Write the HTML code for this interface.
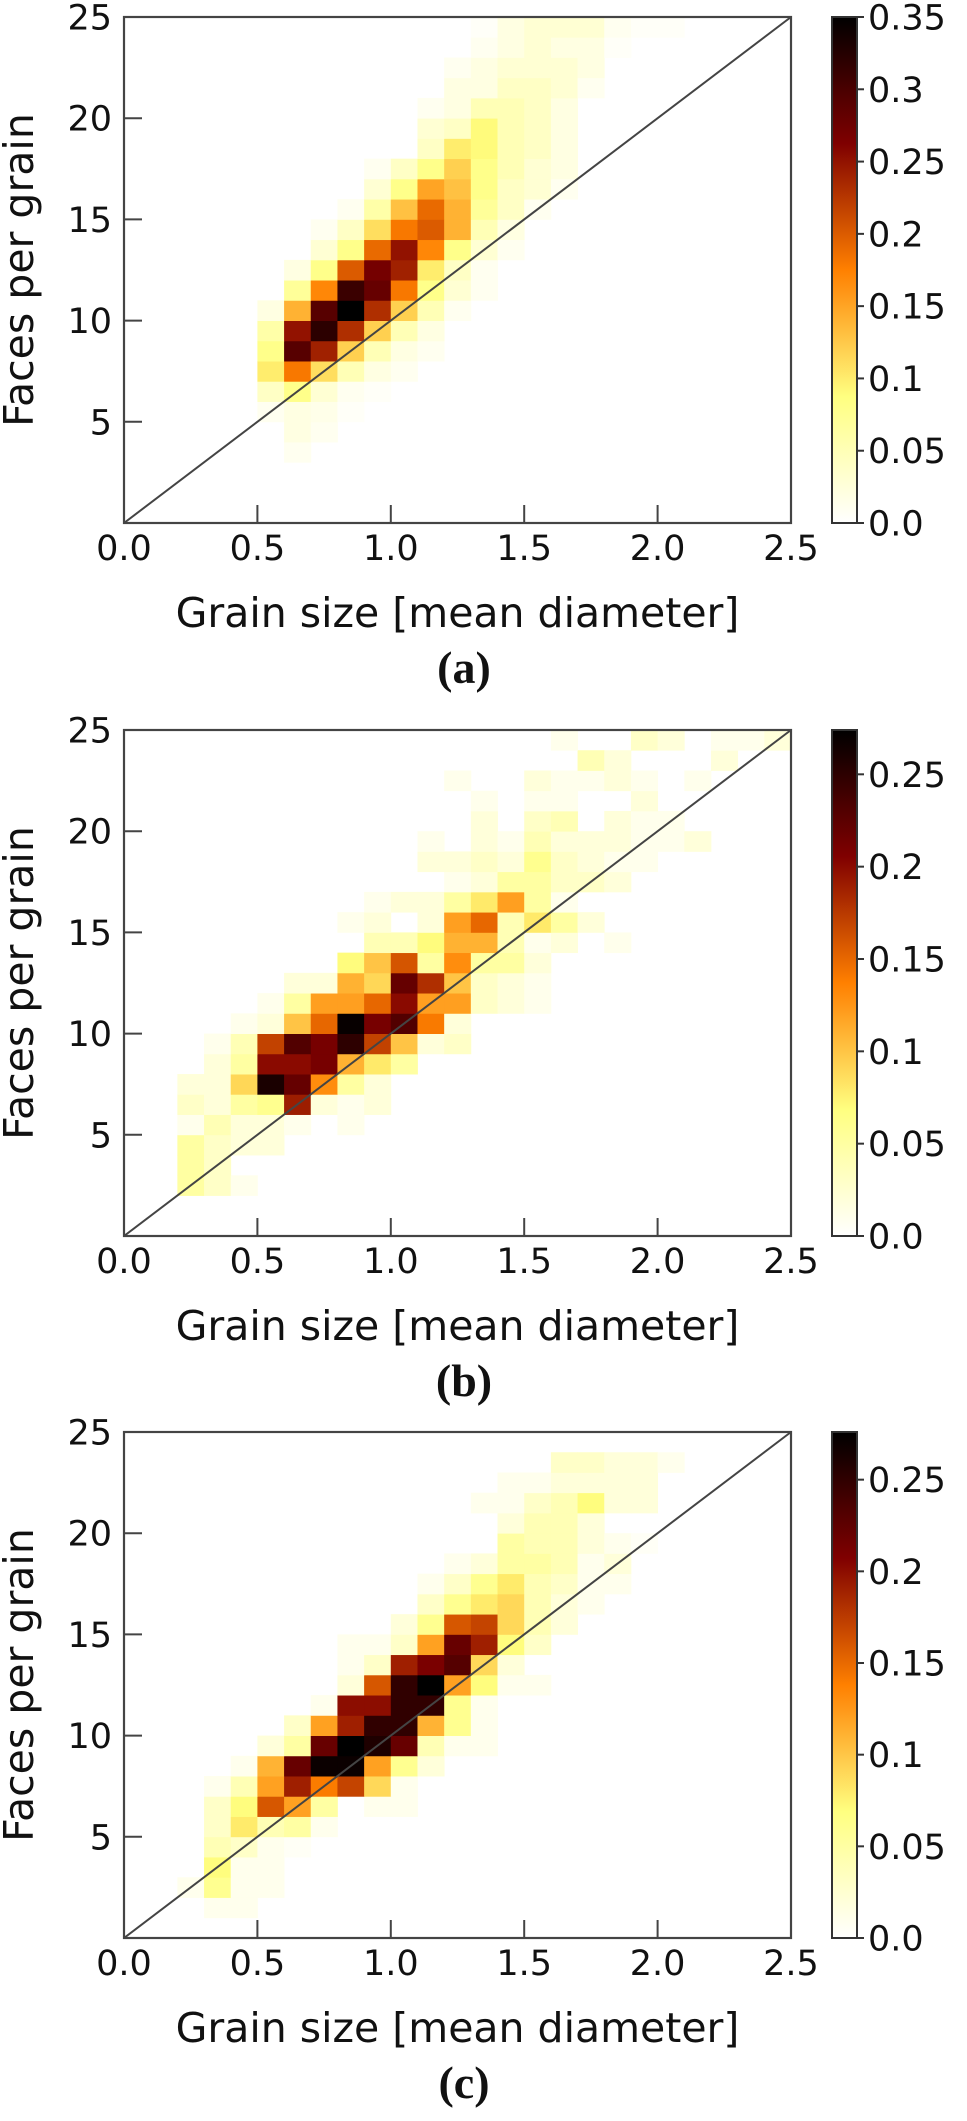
<!DOCTYPE html>
<html><head><meta charset="utf-8">
<style>
html,body{margin:0;padding:0;background:#fff;}
svg text{font-family:"DejaVu Sans","Liberation Sans",sans-serif;fill:#111;}
svg text.cap{font-family:"Liberation Serif",serif;font-weight:bold;}
</style></head>
<body>
<svg id="fig" width="967" height="2116" viewBox="0 0 967 2116" xmlns="http://www.w3.org/2000/svg"></svg>
<script>
const aRowY = [3,4,5,6,7,8,9,10,11,12,13,14,15,16,17,18,19,20,21,22,23,24];
const aRowX0 = [6,6,5,5,5,5,5,5,6,6,7,7,8,9,9,11,11,11,12,12,13,13];
const aRowVals = [
 [0.01],[0.02,0.01],[0.01,0.02,0.015,0.005],[0.04,0.08,0.03,0.01,0.005],
 [0.10,0.18,0.11,0.05,0.02,0.01],[0.08,0.29,0.24,0.12,0.05,0.02,0.01],
 [0.06,0.25,0.32,0.23,0.12,0.05,0.02],[0.02,0.14,0.29,0.35,0.23,0.12,0.05,0.01],
 [0.07,0.17,0.31,0.28,0.18,0.08,0.03,0.01],[0.02,0.08,0.20,0.27,0.24,0.10,0.04,0.01],
 [0.03,0.08,0.19,0.25,0.17,0.08,0.03,0.01],[0.01,0.04,0.11,0.18,0.20,0.14,0.05,0.02],
 [0.01,0.06,0.13,0.19,0.14,0.07,0.04,0.01],[0.03,0.08,0.15,0.13,0.08,0.04,0.03,0.01],
 [0.01,0.04,0.08,0.12,0.08,0.05,0.03,0.02],[0.04,0.10,0.09,0.05,0.04,0.02],
 [0.03,0.04,0.09,0.05,0.04,0.02],[0.01,0.02,0.05,0.05,0.04,0.02],
 [0.02,0.02,0.04,0.04,0.03,0.01],[0.01,0.02,0.03,0.03,0.03,0.02],
 [0.01,0.02,0.03,0.02,0.02,0.005],[0.005,0.02,0.03,0.03,0.03,0.01,0.005,0.005]
];
const bRowY = [2,3,4,5,6,7,8,9,10,11,12,13,14,15,16,17,18,19,20,21,22,23,24];
const bRowX0 = [2,2,2,2,2,2,3,3,4,5,6,8,9,8,9,12,11,11,13,13,12,17,16];
const bRowVals = [
 [0.05,0.03,0.01],[0.05,0.03],[0.05,0.03,0.02,0.02],[0.01,0.04,0.02,0.02,0.01,0,0.01],
 [0.03,0.02,0.05,0.06,0.19,0.02,0.01,0.02],[0.02,0.02,0.09,0.26,0.22,0.13,0.05,0.02],
 [0.02,0.05,0.20,0.20,0.21,0.11,0.08,0.05],[0.01,0.04,0.17,0.23,0.21,0.25,0.17,0.10,0.02,0.03],
 [0.01,0.02,0.10,0.15,0.27,0.21,0.23,0.14,0.02],[0.01,0.05,0.12,0.12,0.15,0.20,0.12,0.12,0.03,0.02,0.01],
 [0.02,0.02,0.11,0.09,0.22,0.18,0.10,0.03,0.02,0.01],[0.07,0.10,0.16,0.05,0.13,0.05,0.05,0.02],
 [0.04,0.04,0.07,0.11,0.11,0.04,0.01,0.02,0,0.01],[0.01,0.02,0,0.02,0.12,0.15,0.04,0.08,0.05,0.02],
 [0.01,0.02,0.02,0.05,0.08,0.12,0.05,0.01],[0.01,0.02,0.05,0.05,0.03,0.03,0.02],
 [0.02,0.02,0.03,0.02,0.06,0.03,0.02,0.01,0.01],[0.01,0,0.02,0.01,0.04,0.02,0.02,0.02,0.01,0.01,0.02],
 [0.02,0,0.03,0.04,0,0.02,0.01,0.01],[0.01,0,0.01,0.01,0,0,0.02],
 [0.01,0,0,0.02,0.01,0.01,0.02,0.01,0,0.01],[0.04,0.02,0,0,0,0.02],
 [0.01,0,0,0.03,0.02,0,0.01,0.01,0.02]
];
const cRowY = [1,2,3,4,5,6,7,8,9,10,11,12,13,14,15,16,17,18,19,20,21,22,23];
const cRowX0 = [3,2,3,3,3,3,3,4,5,6,7,8,8,8,10,11,11,12,14,14,13,14,16];
const cRowVals = [
 [0.01,0.01],[0.01,0.06,0.01,0.01],[0.07,0.01,0.01],[0.04,0.03,0.01,0.005],
 [0.03,0.08,0.04,0.05,0.01],[0.03,0.07,0.16,0.12,0.05,0,0.01,0.01],
 [0.01,0.04,0.12,0.19,0.14,0.17,0.09,0.01],[0.01,0.11,0.22,0.27,0.27,0.12,0.06,0.02],
 [0.02,0.05,0.22,0.28,0.26,0.22,0.04,0.01,0.01],[0.03,0.12,0.19,0.25,0.25,0.11,0.06,0.01],
 [0.01,0.20,0.20,0.25,0.25,0.06,0.01],[0.02,0.16,0.25,0.28,0.12,0.07,0.01,0.01],
 [0.01,0.03,0.19,0.21,0.23,0.09,0.02],[0.01,0.01,0.03,0.12,0.22,0.19,0.07,0.03],
 [0.02,0.06,0.16,0.17,0.09,0.04,0.02],[0.03,0.06,0.08,0.09,0.04,0.02,0.01],
 [0.01,0.03,0.06,0.08,0.04,0.03,0.01,0.01],[0.01,0.02,0.05,0.05,0.04,0.01,0.02],
 [0.05,0.04,0.04,0.02,0.01,0.005],[0.02,0.04,0.04,0.02],
 [0.01,0.01,0.03,0.04,0.07,0.02,0.02],[0.01,0.01,0.02,0.02,0.02,0.02],
 [0.03,0.03,0.02,0.02,0.01]
];
const xTicks = [0, 0.5, 1.0, 1.5, 2.0, 2.5];
const xTickLabels = ["0.0","0.5","1.0","1.5","2.0","2.5"];
const yTicks = [5, 10, 15, 20, 25];
const cbTicksA = [0,0.05,0.1,0.15,0.2,0.25,0.3,0.35];
const cbLabelsA = ["0.0","0.05","0.1","0.15","0.2","0.25","0.3","0.35"];
const cbTicksBC = [0,0.05,0.1,0.15,0.2,0.25];
const cbLabelsBC = ["0.0","0.05","0.1","0.15","0.2","0.25"];
const vmaxes = [0.35, 0.274, 0.276];
const panelLetters = ["(a)","(b)","(c)"];

const NS = "http://www.w3.org/2000/svg";
const svg = document.getElementById("fig");
function mk(tag, attrs, parent){
  const e = document.createElementNS(NS, tag);
  for (const k in attrs) e.setAttribute(k, attrs[k]);
  (parent||svg).appendChild(e);
  return e;
}
function cmap(v, vmax){
  let t = 1 - Math.min(Math.max(v / vmax, 0), 1);
  const c = x => Math.round(255 * Math.min(Math.max(x, 0), 1));
  return `rgb(${c(2*t)},${c(2*t-0.5)},${c(2*t-1)})`;
}
const L = 124, W = 667, H = 506, CBX = 832, CBW = 25;
const panelTops = [17, 730, 1432];
const datasets = [[aRowY,aRowX0,aRowVals],[bRowY,bRowX0,bRowVals],[cRowY,cRowX0,cRowVals]];

panelTops.forEach((top, p) => {
  const vmax = vmaxes[p];
  const g = mk("g", {});
  
  
  const xs = v => L + v / 2.5 * W;
  const ys = v => top + H - v / 25 * H;
  const [ry, rx0, rv] = datasets[p];
  const cells = mk("g", {}, g);
  
  
  ry.forEach((yb, i) => {
    rv[i].forEach((val, j) => {
      if (val <= 0) return;
      const xb = (rx0[i] + j) * 0.1;
      const r = mk("rect", {x: xs(xb), y: ys(yb + 1), width: xs(xb + 0.1) - xs(xb) + 0.4, height: ys(yb) - ys(yb + 1) + 0.4, fill: cmap(val, vmax)}, cells);
      
      
    });
  });
  const d = mk("line", {x1: xs(0), y1: ys(0), x2: xs(2.5), y2: ys(25), stroke: "#444", "stroke-width": 2}, g);
  
  
  const f = mk("rect", {x: L, y: top, width: W, height: H, fill: "none", stroke: "#444", "stroke-width": 2.2}, g);
  
  
  xTicks.forEach((t, i) => {
    const x = xs(t);
    if (i > 0 && i < xTicks.length - 1) {
      const tk = mk("line", {x1: x, y1: top + H, x2: x, y2: top + H - 18, stroke: "#444", "stroke-width": 2}, g);
      
      
    }
    const tx = mk("text", {x: x, y: top + H + 37, "text-anchor": "middle", "font-size": 35}, g);
    tx.textContent = xTickLabels[i];
    
    
  });
  yTicks.forEach(t => {
    const y = ys(t);
    if (t < 25) {
      const tk = mk("line", {x1: L, y1: y, x2: L + 18, y2: y, stroke: "#444", "stroke-width": 2}, g);
      
      
    }
    const tx = mk("text", {x: 112, y: y + 12.5, "text-anchor": "end", "font-size": 35}, g);
    tx.textContent = String(t);
    
    
  });
  const xl = mk("text", {x: L + W / 2, y: top + H + 104, "text-anchor": "middle", "font-size": 41}, g);
  xl.textContent = "Grain size [mean diameter]";
  
  
  const cy = top + H / 2;
  const yl = mk("text", {x: 0, y: 0, transform: `translate(33,${cy}) rotate(-90)`, "text-anchor": "middle", "font-size": 41}, g);
  yl.textContent = "Faces per grain";
  
  
  const cap = mk("text", {x: 464, y: top + H + 160, "text-anchor": "middle", "font-size": 46, class: "cap"}, g);
  cap.textContent = panelLetters[p];
  
  
  const gid = "cbg" + p;
  const defs = mk("defs", {}, g);
  const lg = mk("linearGradient", {id: gid, x1: 0, y1: 1, x2: 0, y2: 0}, defs);
  for (let k = 0; k <= 20; k++) {
    mk("stop", {offset: k / 20, "stop-color": cmap(vmax * k / 20, vmax)}, lg);
  }
  const cb = mk("rect", {x: CBX, y: top, width: CBW, height: H, fill: `url(#${gid})`, stroke: "#333", "stroke-width": 2}, g);
  
  
  const ticks = p === 0 ? cbTicksA : cbTicksBC;
  const labs = p === 0 ? cbLabelsA : cbLabelsBC;
  ticks.forEach((t, i) => {
    const y = top + H - t / vmax * H;
    const tk = mk("line", {x1: CBX + CBW, y1: y, x2: CBX + CBW + 7, y2: y, stroke: "#333", "stroke-width": 2}, g);
    
    
    const tx = mk("text", {x: CBX + CBW + 11, y: y + 12.5, "font-size": 35}, g);
    tx.textContent = labs[i];
    
    
  });
});
</script>
</body></html>
